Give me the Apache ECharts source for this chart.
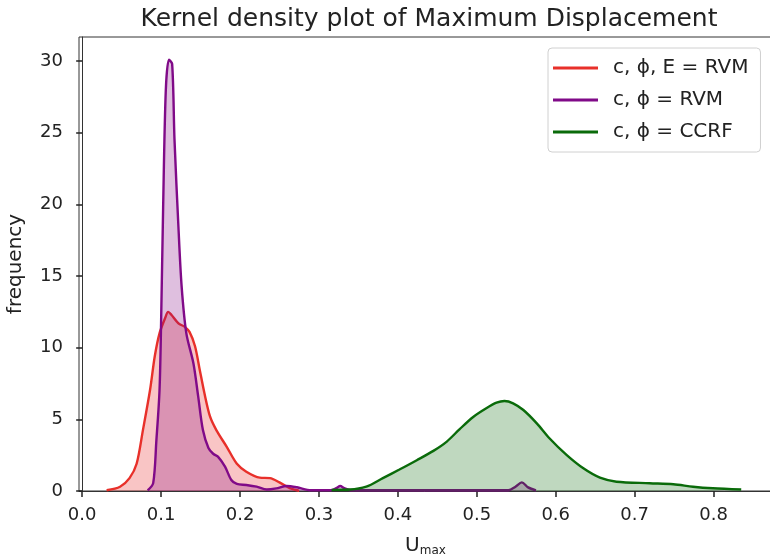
<!DOCTYPE html>
<html>
<head>
<meta charset="utf-8">
<script src="https://cdn.jsdelivr.net/npm/echarts@6/dist/echarts.min.js"></script>
<style>html,body{margin:0;padding:0;background:#fff}#c{width:770px;height:559px}</style>
</head>
<body>
<div id="c"></div>
<script>
const titleText = 'Kernel density plot of Maximum Displacement';
const seriesNames = ['c, \u03D5, E = RVM', 'c, \u03D5 = RVM', 'c, \u03D5 = CCRF'];
const xTicks = [0.0, 0.1, 0.2, 0.3, 0.4, 0.5, 0.6, 0.7, 0.8];
const yTicks = [0, 5, 10, 15, 20, 25, 30];

const redX = [0.031,0.048,0.060,0.069,0.077,0.086,0.092,0.098,0.105,0.109,0.113,0.122,0.130,0.136,0.143,0.149,0.155,0.162,0.170,0.183,0.196,0.208,0.225,0.238,0.250,0.263,0.275];
const redY = [0.05,0.3,0.9,1.9,4.25,7.05,9.4,11.0,12.05,12.5,12.3,11.7,11.45,11.1,10.1,8.45,6.8,5.2,4.25,3.1,1.9,1.35,0.93,0.9,0.6,0.2,0.02];

const purpleX = [0.083,0.090,0.094,0.098,0.100,0.1026,0.106,0.110,0.114,0.117,0.122,0.126,0.132,0.141,0.147,0.153,0.160,0.166,0.172,0.181,0.189,0.196,0.208,0.221,0.234,0.246,0.259,0.272,0.290,0.315,0.322,0.327,0.332,0.340,0.540,0.549,0.557,0.565,0.575];
const purpleY = [0.05,0.55,3.5,7.0,11.7,19.8,28.0,30.1,29.8,24.5,18.4,14.3,11.0,8.9,6.6,4.25,3.0,2.6,2.4,1.7,0.77,0.49,0.42,0.3,0.1,0.18,0.35,0.26,0.05,0.05,0.2,0.35,0.2,0.05,0.05,0.3,0.6,0.25,0.05];

const greenX = [0.316,0.339,0.360,0.381,0.402,0.424,0.445,0.462,0.478,0.495,0.512,0.525,0.535,0.546,0.559,0.576,0.592,0.614,0.635,0.656,0.677,0.719,0.749,0.774,0.799,0.835];
const greenY = [0.08,0.1,0.3,0.9,1.5,2.15,2.8,3.45,4.3,5.15,5.77,6.16,6.28,6.12,5.65,4.72,3.68,2.5,1.58,0.93,0.65,0.54,0.47,0.3,0.19,0.1];

const colors = ['#e8302a', '#800a88', '#0a6b0a'];
const fills = ['rgba(232,32,32,0.26)', 'rgba(128,0,128,0.25)', 'rgba(0,100,0,0.25)'];

function pairs(xs, ys) { return xs.map((x, i) => [x, ys[i]]); }
const allData = [pairs(redX, redY), pairs(purpleX, purpleY), pairs(greenX, greenY)];

const font = "'DejaVu Sans', sans-serif";
const chart = echarts.init(document.getElementById('c'), null, {renderer: 'canvas'});
chart.setOption({
  animation: false,
  backgroundColor: '#fff',
  title: {
    text: titleText, left: 424, top: 2, textAlign: 'center',
    textStyle: {fontFamily: font, fontSize: 25, fontWeight: 'normal', color: '#222'}
  },
  legend: {
    left: 548, top: 48,
    orient: 'vertical',
    itemWidth: 45, itemHeight: 3, itemGap: 12,
    icon: 'rect',
    padding: [10, 12, 10, 5],
    borderColor: '#d0d0d0', borderWidth: 1, borderRadius: 4,
    backgroundColor: 'rgba(255,255,255,0.85)',
    textStyle: {fontFamily: font, fontSize: 20, color: '#222', padding: [0, 0, 0, 10]},
    data: seriesNames.map((n, i) => ({name: n, itemStyle: {color: colors[i]}}))
  },
  grid: {
    left: 79, top: 37, right: -2, bottom: 68,
    outerBoundsMode: 'none', containLabel: false,
    show: true, borderColor: '#333', borderWidth: 1
  },
  xAxis: {
    type: 'value', min: -0.004, max: 0.874,
    name: 'U{sub|max}', nameLocation: 'middle', nameGap: 44,
    nameTextStyle: {fontFamily: font, fontSize: 20, color: '#222',
      rich: {sub: {fontFamily: font, fontSize: 12, color: '#222', verticalAlign: 'bottom', padding: [10, 0, 0, 0]}}},
    axisLine: {show: true, onZero: false, lineStyle: {color: '#333', width: 1}},
    axisTick: {show: true, inside: false, length: 6, lineStyle: {color: '#222', width: 1.5}, customValues: xTicks},
    axisLabel: {fontFamily: font, fontSize: 18, color: '#222', margin: 15,
      customValues: xTicks, formatter: v => v.toFixed(1)},
    splitLine: {show: false}
  },
  yAxis: {
    type: 'value', min: 0, max: 31.68,
    name: 'frequency', nameLocation: 'middle', nameGap: 53,
    nameTextStyle: {fontFamily: font, fontSize: 20, color: '#222'},
    axisLine: {show: true, lineStyle: {color: '#333', width: 1}},
    axisTick: {show: true, inside: false, length: 6, lineStyle: {color: '#222', width: 1.5}, customValues: yTicks},
    axisLabel: {fontFamily: font, fontSize: 18, color: '#222', margin: 16,
      customValues: yTicks, formatter: v => String(v)},
    splitLine: {show: false}
  },
  series: seriesNames.map((n, i) => ({
    name: n, type: 'line', data: allData[i],
    smooth: 0.3,
    showSymbol: false, symbol: 'none',
    lineStyle: {color: colors[i], width: 2.4},
    itemStyle: {color: colors[i]},
    areaStyle: {color: fills[i], opacity: 1, origin: 'start'},
    z: 2 + i
  }))
});
</script>
</body>
</html>
